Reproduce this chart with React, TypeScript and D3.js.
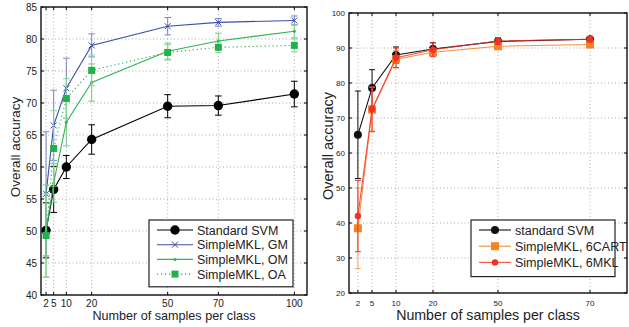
import * as d3 from "d3";

// left panel: samples per class vs overall accuracy
const leftSamples = [2, 5, 10, 20, 50, 70, 100];
const leftYTicks = [40, 45, 50, 55, 60, 65, 70, 75, 80, 85];
const svmLeft = [50.1, 56.5, 60.0, 64.3, 69.5, 69.6, 71.4];
const svmLeftErr = [4.3, 3.6, 1.8, 2.3, 1.8, 1.5, 2.0];
const gmLeft = [55.8, 66.5, 72.3, 79.0, 82.0, 82.6, 82.9];
const gmLeftErr = [9.7, 5.5, 4.7, 1.8, 1.35, 0.6, 0.7];
const omLeft = [50.0, 57.5, 67.0, 73.2, 78.1, 79.7, 81.2];
const omLeftErr = [7.2, 3.0, 3.7, 2.9, 1.25, 1.2, 1.0];
const oaLeft = [49.3, 62.9, 70.7, 75.1, 77.9, 78.7, 79.0];
const oaLeftErr = [6.5, 5.9, 3.1, 2.4, 1.2, 0.8, 1.0];

// right panel
const rightSamples = [2, 5, 10, 20, 50, 70];
const rightTickPos = [0.032, 0.083, 0.169, 0.302, 0.536, 0.867]; // where each label sits along the axis
const rightYTicks = [20, 30, 40, 50, 60, 70, 80, 90, 100];
const svmRight = [65.2, 78.6, 88.0, 89.7, 91.9, 92.5];
const svmRightErr = [12.5, 5.2, 2.3, 1.8, 1.0, 0.6];
const cartRight = [38.5, 72.4, 86.8, 88.8, 90.5, 91.0];
const cartRightErr = [11.5, 6.4, 2.5, 1.0, 0.8, 0.7];
const mklRight = [42.0, 72.5, 87.2, 89.5, 92.0, 92.5];
const mklRightErr = [10.2, 6.3, 2.8, 2.0, 1.0, 0.8];

const FONT = "'Liberation Sans', Arial, Helvetica, sans-serif";
const TXT = "#222";

type Series = {
  name: string;
  values: number[];
  err: number[];
  color: string;
  errColor: string;
  dash?: string;
  marker: "circle" | "x" | "dot" | "square" | "star";
  size: number;
  lineOpacity?: number;
};

function Marker({ kind, x, y, size, color }: { kind: string; x: number; y: number; size: number; color: string }) {
  if (kind === "square")
    return <rect x={x - size} y={y - size} width={size * 2} height={size * 2} fill={color} />;
  if (kind === "x")
    return (
      <path
        d={`M${x - size},${y - size}L${x + size},${y + size}M${x - size},${y + size}L${x + size},${y - size}`}
        stroke={color}
        strokeWidth={1}
      />
    );
  return <circle cx={x} cy={y} r={size} fill={color} />;
}

function Panel({
  box,
  x,
  xTicks,
  y,
  yTicks,
  series,
  tickFont,
  tickGap,
  labelFont,
  labelY,
  ylabelX,
  ylabelY,
  ylabelFont,
  legend,
  cap,
}: {
  box: { l: number; r: number; t: number; b: number };
  x: (v: number) => number;
  xTicks: number[];
  y: d3.ScaleLinear<number, number>;
  yTicks: number[];
  series: Series[];
  tickFont: number;
  tickGap: number;
  labelFont: number;
  labelY: number;
  ylabelX: number;
  ylabelY: number;
  ylabelFont: number;
  legend: { x: number; y: number; w: number; rowH: number; font: number; lineLen: number };
  cap: number;
}) {
  const { l, r, t, b } = box;
  return (
    <g fontFamily={FONT}>
      {/* grid */}
      {xTicks.map((v) => (
        <line key={"gx" + v} x1={x(v)} x2={x(v)} y1={t} y2={b} stroke="#999" strokeWidth={0.8} strokeDasharray="1,2.5" />
      ))}
      {yTicks.map((v) => (
        <line key={"gy" + v} x1={l} x2={r} y1={y(v)} y2={y(v)} stroke="#999" strokeWidth={0.8} strokeDasharray="1,2.5" />
      ))}
      {/* ticks */}
      {xTicks.map((v) => (
        <g key={"tx" + v}>
          <line x1={x(v)} x2={x(v)} y1={b} y2={b - 3} stroke="#000" />
          <line x1={x(v)} x2={x(v)} y1={t} y2={t + 3} stroke="#000" />
          <text x={x(v)} y={b + tickGap} fontSize={tickFont} textAnchor="middle" fill={TXT}>
            {v}
          </text>
        </g>
      ))}
      {yTicks.map((v) => (
        <g key={"ty" + v}>
          <line x1={l} x2={l + 3} y1={y(v)} y2={y(v)} stroke="#000" />
          <line x1={r} x2={r - 3} y1={y(v)} y2={y(v)} stroke="#000" />
          <text x={l - 4} y={y(v) + tickFont * 0.35} fontSize={tickFont} textAnchor="end" fill={TXT}>
            {v}
          </text>
        </g>
      ))}
      {/* series */}
      {series.map((s) => {
        const line = d3
          .line<number>()
          .x((_, i) => x(xTicks[i]))
          .y((d) => y(d));
        return (
          <g key={s.name}>
            {s.values.map((v, i) => {
              const cx = x(xTicks[i]);
              const y1 = y(v - s.err[i]);
              const y2 = y(v + s.err[i]);
              return (
                <g key={i} stroke={s.errColor} strokeWidth={1}>
                  <line x1={cx} x2={cx} y1={y1} y2={y2} />
                  <line x1={cx - cap} x2={cx + cap} y1={y1} y2={y1} />
                  <line x1={cx - cap} x2={cx + cap} y1={y2} y2={y2} />
                </g>
              );
            })}
            <path
              d={line(s.values) ?? ""}
              fill="none"
              stroke={s.color}
              strokeWidth={1.1}
              strokeDasharray={s.dash}
              strokeOpacity={s.lineOpacity ?? 1}
            />
            {s.values.map((v, i) => (
              <Marker key={"m" + i} kind={s.marker} x={x(xTicks[i])} y={y(v)} size={s.size} color={s.color} />
            ))}
          </g>
        );
      })}
      {/* box */}
      <rect x={l} y={t} width={r - l} height={b - t} fill="none" stroke="#111" strokeWidth={1.4} />
      {/* legend */}
      <rect
        x={legend.x}
        y={legend.y}
        width={legend.w}
        height={legend.rowH * series.length + 8}
        fill="#fff"
        stroke="#222"
        strokeWidth={1.2}
      />
      {series.map((s, i) => {
        const ly = legend.y + 10 + i * legend.rowH;
        const lx = legend.x + 8;
        return (
          <g key={"lg" + s.name}>
            <line
              x1={lx}
              x2={lx + legend.lineLen}
              y1={ly}
              y2={ly}
              stroke={s.color}
              strokeWidth={1.1}
              strokeDasharray={s.dash}
              strokeOpacity={s.lineOpacity ?? 1}
            />
            <Marker kind={s.marker} x={lx + legend.lineLen / 2} y={ly} size={s.size} color={s.color} />
            <text x={lx + legend.lineLen + 4} y={ly + legend.font * 0.36} fontSize={legend.font} fill={TXT}>
              {s.name}
            </text>
          </g>
        );
      })}
      {/* axis titles */}
      <text x={(l + r) / 2} y={labelY} fontSize={labelFont} textAnchor="middle" fill={TXT}>
        Number of samples per class
      </text>
      <text
        transform={`translate(${ylabelX},${ylabelY}) rotate(-90)`}
        fontSize={ylabelFont}
        textAnchor="middle"
        fill={TXT}
      >
        Overall accuracy
      </text>
    </g>
  );
}

export default function App() {
  const lbox = { l: 41, r: 307, t: 7, b: 295 };
  const lx = d3.scaleLinear().domain([0, 105]).range([lbox.l, lbox.r]);
  const ly = d3.scaleLinear().domain([40, 85]).range([lbox.b, lbox.t]);

  const rbox = { l: 349, r: 627, t: 13, b: 293 };
  const rxScale = d3
    .scaleLinear()
    .domain(rightSamples)
    .range(rightTickPos.map((p) => rbox.l + p * (rbox.r - rbox.l)));
  const ry = d3.scaleLinear().domain([20, 100]).range([rbox.b, rbox.t]);

  const leftSeries: Series[] = [
    { name: "Standard SVM", values: svmLeft, err: svmLeftErr, color: "#000", errColor: "#000", marker: "circle", size: 4.7 },
    { name: "SimpleMKL, GM", values: gmLeft, err: gmLeftErr, color: "#3b4ea8", errColor: "#7a86c4", marker: "x", size: 3 },
    { name: "SimpleMKL, OM", values: omLeft, err: omLeftErr, color: "#2fb44f", errColor: "#6fcb85", marker: "dot", size: 1.5 },
    { name: "SimpleMKL, OA", values: oaLeft, err: oaLeftErr, color: "#22b04b", errColor: "#86d49a", dash: "1.2,2.8", marker: "square", size: 3.5 },
  ];

  const rightSeries: Series[] = [
    { name: "standard SVM", values: svmRight, err: svmRightErr, color: "#111", errColor: "#111", marker: "circle", size: 4 },
    { name: "SimpleMKL, 6CART", values: cartRight, err: cartRightErr, color: "#f58426", errColor: "#f7a566", marker: "square", size: 4, lineOpacity: 0.9 },
    { name: "SimpleMKL, 6MKL", values: mklRight, err: mklRightErr, color: "#ee3224", errColor: "#ee3224", marker: "star", size: 3.2, lineOpacity: 0.85 },
  ];

  return (
    <svg width={629} height={327} style={{ position: "absolute", left: 0, top: 0, background: "#fff" }}>
      <Panel
        box={lbox}
        x={(v) => lx(v)}
        xTicks={leftSamples}
        y={ly}
        yTicks={leftYTicks}
        series={leftSeries}
        tickFont={10}
        tickGap={12}
        labelFont={12.6}
        labelY={319.5}
        ylabelX={20}
        ylabelY={147}
        ylabelFont={13.5}
        legend={{ x: 149, y: 220, w: 144, rowH: 14.7, font: 12.5, lineLen: 36 }}
        cap={3.3}
      />
      <Panel
        box={rbox}
        x={(v) => rxScale(v)}
        xTicks={rightSamples}
        y={ry}
        yTicks={rightYTicks}
        series={rightSeries}
        tickFont={8}
        tickGap={12.5}
        labelFont={14.2}
        labelY={319.5}
        ylabelX={333}
        ylabelY={146}
        ylabelFont={14.5}
        legend={{ x: 471, y: 220, w: 144, rowH: 16.2, font: 12.5, lineLen: 32 }}
        cap={3}
      />
    </svg>
  );
}
